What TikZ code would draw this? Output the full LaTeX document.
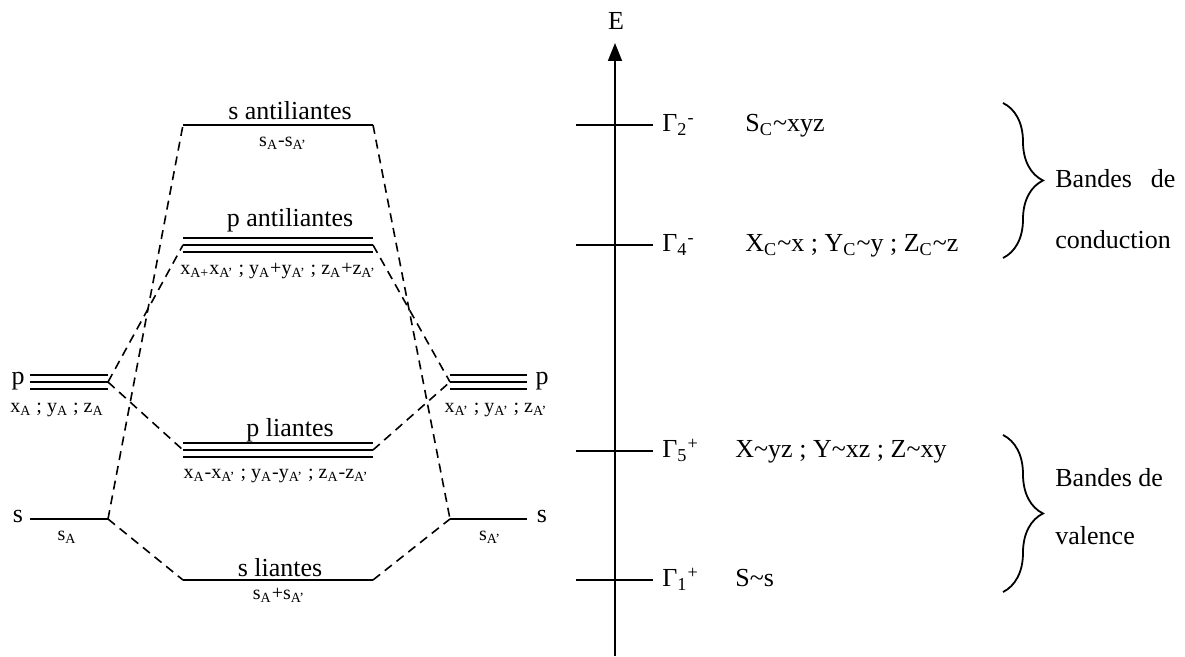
\documentclass[tikz,border=0pt]{standalone}
\usepackage{fontspec}
\setmainfont{Liberation Serif}
\usetikzlibrary{arrows.meta,positioning,decorations.pathreplacing}

\newcommand{\ix}[1]{\textsubscript{#1}}

\begin{document}
\begin{tikzpicture}[
    x=0.5pt, y=-0.5pt,
    >={Triangle[width=7pt,length=9pt]},
    level/.style={line width=1pt},
    link/.style={line width=0.8pt, dash pattern=on 4.5pt off 3pt},
    lab/.style={inner sep=0pt, anchor=base, font=\fontsize{13}{15}\selectfont},
    tag/.style={inner sep=0pt, anchor=base, font=\fontsize{10}{12}\selectfont},
    brace/.style={decorate, decoration={brace, amplitude=20pt}, line width=0.9pt}
  ]
  \useasboundingbox (0,0) rectangle (1185,657);

  % atomic levels, A on the left, A' on the right
  \coordinate (pA-l) at (30,382);   \coordinate (pA-r) at (108,382);
  \coordinate (sA-l) at (30,519);   \coordinate (sA-r) at (108,519);
  \coordinate (pB-l) at (450,382);  \coordinate (pB-r) at (527,382);
  \coordinate (sB-l) at (450,519);  \coordinate (sB-r) at (527,519);
  % molecular levels
  \coordinate (sa-l) at (183,125);  \coordinate (sa-r) at (373,125);
  \coordinate (pa-l) at (183,245);  \coordinate (pa-r) at (373,245);
  \coordinate (pl-l) at (183,450);  \coordinate (pl-r) at (373,450);
  \coordinate (sl-l) at (183,580);  \coordinate (sl-r) at (373,580);

  \draw[level] (sA-l) -- (sA-r);
  \draw[level] (sB-l) -- (sB-r);
  \draw[level] (sa-l) -- (sa-r);
  \draw[level] (sl-l) -- (sl-r);
  \foreach \d in {-3.5pt,0pt,3.5pt} {
    \draw[level] ([yshift=\d]pA-l) -- ([yshift=\d]pA-r);
    \draw[level] ([yshift=\d]pB-l) -- ([yshift=\d]pB-r);
    \draw[level] ([yshift=\d]pa-l) -- ([yshift=\d]pa-r);
    \draw[level] ([yshift=\d]pl-l) -- ([yshift=\d]pl-r);
  }

  \draw[link] (sA-r) -- (sa-l);
  \draw[link] (sA-r) -- (sl-l);
  \draw[link] (pA-r) -- (pa-l);
  \draw[link] (pA-r) -- (pl-l);
  \draw[link] (sa-r) -- (sB-l);
  \draw[link] (sl-r) -- (sB-l);
  \draw[link] (pa-r) -- (pB-l);
  \draw[link] (pl-r) -- (pB-l);

  \node[lab] (pA) at (18,385) {p};
  \node[lab] (sA) at (18,523) {s};
  \node[lab] (pB) at (542,385) {p};
  \node[lab] (sB) at (542,523) {s};
  \node[tag] (pA-t) at (57,413) {x\ix{A} ; y\ix{A} ; z\ix{A}};
  \node[tag] (sA-t) at (67,541) {s\ix{A}};
  \node[tag] (pB-t) at (496,413) {x\ix{A'} ; y\ix{A'} ; z\ix{A'}};
  \node[tag] (sB-t) at (490,541) {s\ix{A'}};

  \node[lab] (sa) at (290,120) {s antiliantes};
  \node[tag] (sa-t) at (283,147) {s\ix{A}-s\ix{A'}};
  \node[lab] (pa) at (290,227) {p antiliantes};
  \node[tag] (pa-t) at (278,275) {x\ix{A+}x\ix{A'} ; y\ix{A}+y\ix{A'} ; z\ix{A}+z\ix{A'}};
  \node[lab] (pl) at (290,437) {p liantes};
  \node[tag] (pl-t) at (276,479) {x\ix{A}-x\ix{A'} ; y\ix{A}-y\ix{A'} ; z\ix{A}-z\ix{A'}};
  \node[lab] (sl) at (280,577) {s liantes};
  \node[tag] (sl-t) at (279,600) {s\ix{A}+s\ix{A'}};

  % energy axis
  \coordinate (E0) at (615,656);
  \node[lab, anchor=center] (E) at (616,21) {E};
  \draw[->, line width=0.9pt] (E0) -- (615,43) coordinate (E1);

  \coordinate (g2) at (576,125);
  \coordinate (g4) at (576,245);
  \coordinate (g5) at (576,451);
  \coordinate (g1) at (576,580);
  \foreach \g in {g2,g4,g5,g1}
    \draw[level] (\g) -- ++(77,0);

  \node[lab, anchor=base west] (g2-l) at (662,132) {Γ\ix{2}\textsuperscript{-}};
  \node[lab, anchor=base west] (g4-l) at (662,252) {Γ\ix{4}\textsuperscript{-}};
  \node[lab, anchor=base west] (g5-l) at (662,458) {Γ\ix{5}\textsuperscript{+}};
  \node[lab, anchor=base west] (g1-l) at (662,587) {Γ\ix{1}\textsuperscript{+}};
  \node[lab, anchor=base west] (g2-f) at (745,132) {S\ix{C}\textasciitilde xyz};
  \node[lab, anchor=base west] (g4-f) at (745,252) {X\ix{C}\textasciitilde x ; Y\ix{C}\textasciitilde y ; Z\ix{C}\textasciitilde z};
  \node[lab, anchor=base west] (g5-f) at (735,458) {X\textasciitilde yz ; Y\textasciitilde xz ; Z\textasciitilde xy};
  \node[lab, anchor=base west] (g1-f) at (735,587) {S\textasciitilde s};

  % bands
  \coordinate (bc-t) at (1003,103); \coordinate (bc-b) at (1003,258);
  \coordinate (bv-t) at (1003,435); \coordinate (bv-b) at (1003,592);
  \draw[brace] (bc-t) -- (bc-b);
  \draw[brace] (bv-t) -- (bv-b);
  \node[lab, anchor=base west] (bc1) at (1055,188) {\makebox[60pt][s]{Bandes de}};
  \node[lab, anchor=base west] (bc2) at (1055,249) {conduction};
  \node[lab, anchor=base west] (bv1) at (1055,487) {Bandes de};
  \node[lab, anchor=base west] (bv2) at (1055,545) {valence};
\end{tikzpicture}
\end{document}
